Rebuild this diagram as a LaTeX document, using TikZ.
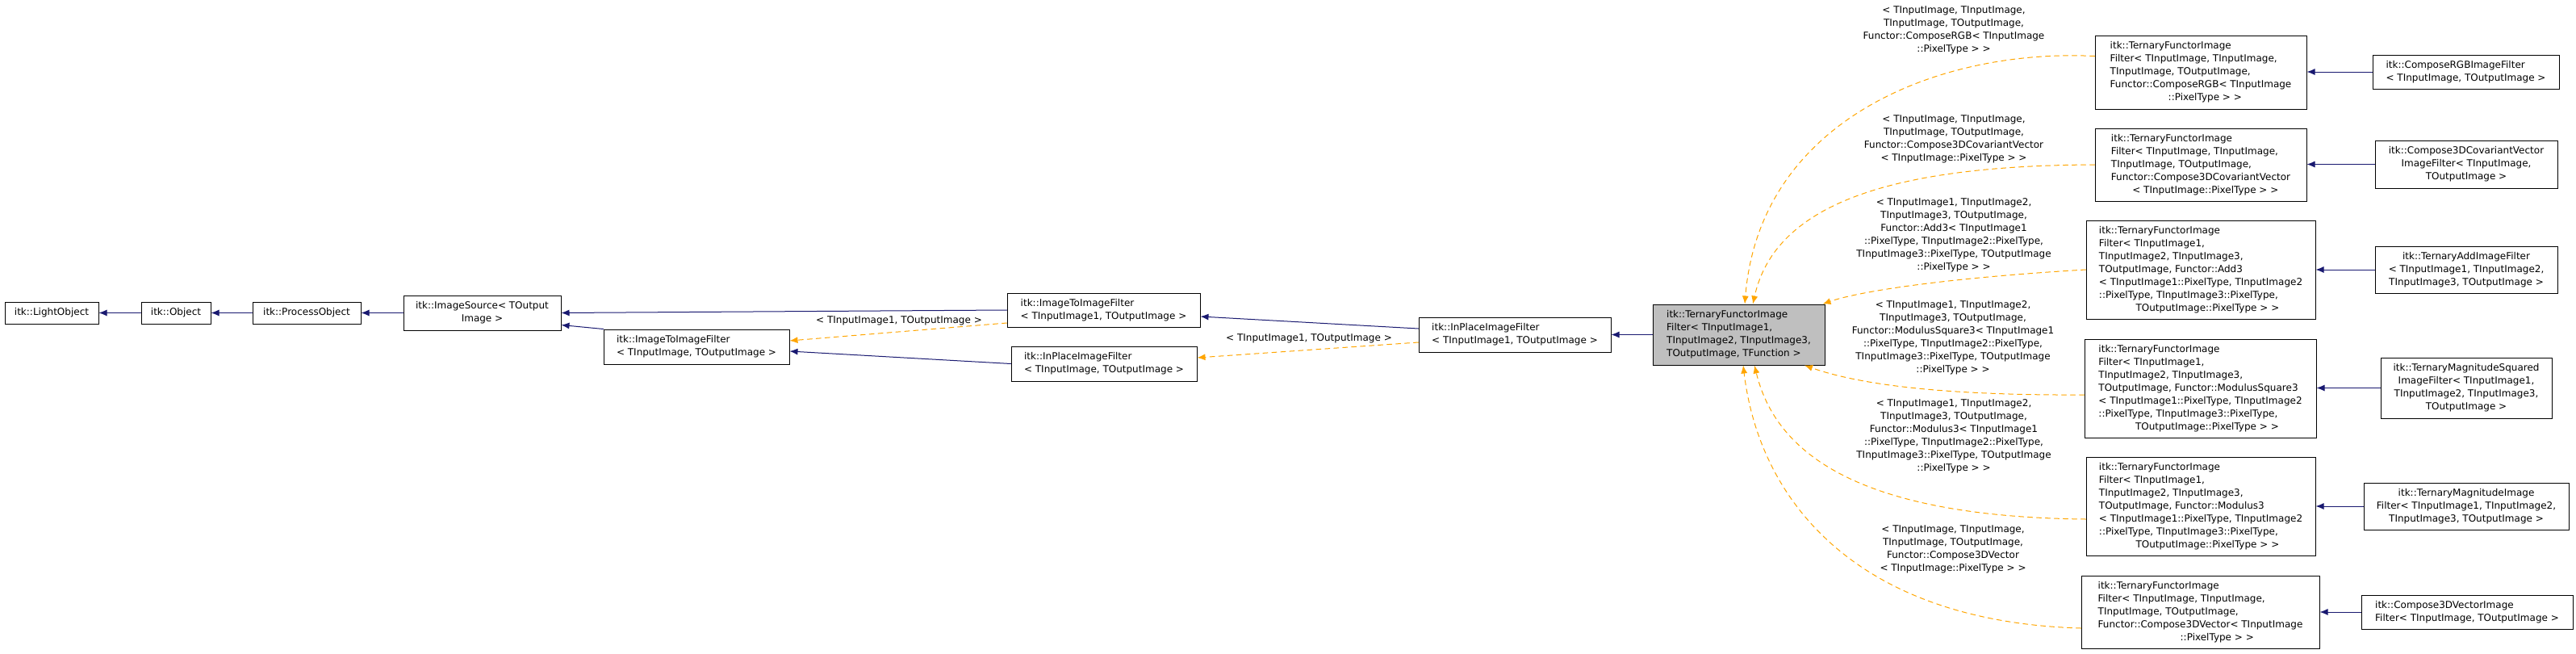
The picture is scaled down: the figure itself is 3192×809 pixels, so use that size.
\documentclass[tikz,border=0pt]{standalone}
\usepackage{fontspec}
\setmainfont{DejaVu Sans}
\usepackage{xcolor}
\definecolor{blu}{RGB}{25,25,112}
\definecolor{ora}{RGB}{255,165,0}
\definecolor{gry}{RGB}{191,191,191}
\usepackage{tikz}
\usetikzlibrary{arrows.meta}

\begin{document}
\begin{tikzpicture}[x=1pt,y=-1pt,line cap=round]
	\tikzstyle{cls}=[draw,fill=white,line width=1pt,inner sep=3pt,font=\fontsize{12}{16}\selectfont,align=left];
	\tikzstyle{ctr}=[cls,align=center];
	\tikzstyle{lbl}=[inner sep=0pt,font=\fontsize{12}{16}\selectfont,align=center];
	\tikzstyle{inh}=[blu,line width=1pt,-{Latex[length=10pt,width=8pt]}];
	\tikzstyle{tmpl}=[ora,line width=1pt,dash pattern=on 6pt off 5pt,-{Latex[length=10pt,width=8pt]}];
%<--------------------------------------------------------------------------->%
	\useasboundingbox (0,0) rectangle (3192,809);
	\node[ctr,minimum width=116,minimum height=27] (lobj) at (64,387.5) {itk::LightObject};
	\node[ctr,minimum width=86,minimum height=27] (obj) at (218,387.5) {itk::Object};
	\node[ctr,minimum width=134,minimum height=27] (pobj) at (380,387.5) {itk::ProcessObject};
	\node[ctr,minimum width=195,minimum height=43] (src) at (597.5,387.5) {itk::ImageSource< TOutput\\Image >};
	\node[cls,minimum width=230,minimum height=43] (iti) at (863,429.5) {itk::ImageToImageFilter\\< TInputImage, TOutputImage >};
	\node[cls,minimum width=239,minimum height=42] (itione) at (1367.5,384) {itk::ImageToImageFilter\\< TInputImage1, TOutputImage >};
	\node[cls,minimum width=230,minimum height=43] (ip) at (1368,450.5) {itk::InPlaceImageFilter\\< TInputImage, TOutputImage >};
	\node[cls,minimum width=238,minimum height=43] (ipone) at (1877,414.5) {itk::InPlaceImageFilter\\< TInputImage1, TOutputImage >};
	\node[cls,fill=gry,minimum width=213,minimum height=75] (tern) at (2154.5,414.5) {itk::TernaryFunctorImage\\Filter< TInputImage1,\\ TInputImage2, TInputImage3,\\ TOutputImage, TFunction >};
	%% instantiations
	\node[cls,minimum width=262,minimum height=91] (rgb) at (2727,89.5) {itk::TernaryFunctorImage\\Filter< TInputImage, TInputImage,\\ TInputImage, TOutputImage,\\ Functor::ComposeRGB< TInputImage\\\hspace*{6em}::PixelType > >};
	\node[cls,minimum width=262,minimum height=90] (cov) at (2727,204) {itk::TernaryFunctorImage\\Filter< TInputImage, TInputImage,\\ TInputImage, TOutputImage,\\ Functor::Compose3DCovariantVector\\\hspace*{2.2em}< TInputImage::PixelType > >};
	\node[cls,minimum width=284,minimum height=122] (add) at (2727,334) {itk::TernaryFunctorImage\\Filter< TInputImage1,\\ TInputImage2, TInputImage3,\\ TOutputImage, Functor::Add3\\< TInputImage1::PixelType, TInputImage2\\::PixelType, TInputImage3::PixelType,\\\hspace*{3.8em}TOutputImage::PixelType > >};
	\node[cls,minimum width=287,minimum height=122] (msq) at (2726.5,481) {itk::TernaryFunctorImage\\Filter< TInputImage1,\\ TInputImage2, TInputImage3,\\ TOutputImage, Functor::ModulusSquare3\\< TInputImage1::PixelType, TInputImage2\\::PixelType, TInputImage3::PixelType,\\\hspace*{3.8em}TOutputImage::PixelType > >};
	\node[cls,minimum width=284,minimum height=122] (mod) at (2727,627) {itk::TernaryFunctorImage\\Filter< TInputImage1,\\ TInputImage2, TInputImage3,\\ TOutputImage, Functor::Modulus3\\< TInputImage1::PixelType, TInputImage2\\::PixelType, TInputImage3::PixelType,\\\hspace*{3.8em}TOutputImage::PixelType > >};
	\node[cls,minimum width=295,minimum height=90] (vec) at (2726.5,758) {itk::TernaryFunctorImage\\Filter< TInputImage, TInputImage,\\ TInputImage, TOutputImage,\\ Functor::Compose3DVector< TInputImage\\\hspace*{8.5em}::PixelType > >};
	%% leaves
	\node[cls,minimum width=231,minimum height=42] (rgbf) at (3055.5,89) {itk::ComposeRGBImageFilter\\< TInputImage, TOutputImage >};
	\node[ctr,minimum width=226,minimum height=59] (covf) at (3056,203.5) {itk::Compose3DCovariantVector\\ImageFilter< TInputImage,\\TOutputImage >};
	\node[ctr,minimum width=226,minimum height=58] (addf) at (3056,334) {itk::TernaryAddImageFilter\\< TInputImage1, TInputImage2,\\TInputImage3, TOutputImage >};
	\node[ctr,minimum width=212,minimum height=75] (msqf) at (3056,480.5) {itk::TernaryMagnitudeSquared\\ImageFilter< TInputImage1,\\TInputImage2, TInputImage3,\\TOutputImage >};
	\node[ctr,minimum width=254,minimum height=58] (modf) at (3056,627) {itk::TernaryMagnitudeImage\\Filter< TInputImage1, TInputImage2,\\TInputImage3, TOutputImage >};
	\node[cls,minimum width=262,minimum height=42] (vecf) at (3057,758) {itk::Compose3DVectorImage\\Filter< TInputImage, TOutputImage >};
	%% edge labels
	\node[lbl] (lrgb) at (2421,37) {< TInputImage, TInputImage,\\TInputImage, TOutputImage,\\Functor::ComposeRGB< TInputImage\\::PixelType > >};
	\node[lbl] (lcov) at (2421,172) {< TInputImage, TInputImage,\\TInputImage, TOutputImage,\\Functor::Compose3DCovariantVector\\< TInputImage::PixelType > >};
	\node[lbl] (ladd) at (2421,291) {< TInputImage1, TInputImage2,\\TInputImage3, TOutputImage,\\Functor::Add3< TInputImage1\\::PixelType, TInputImage2::PixelType,\\TInputImage3::PixelType, TOutputImage\\::PixelType > >};
	\node[lbl] (lmsq) at (2420,418) {< TInputImage1, TInputImage2,\\TInputImage3, TOutputImage,\\Functor::ModulusSquare3< TInputImage1\\::PixelType, TInputImage2::PixelType,\\TInputImage3::PixelType, TOutputImage\\::PixelType > >};
	\node[lbl] (lmod) at (2421,540) {< TInputImage1, TInputImage2,\\TInputImage3, TOutputImage,\\Functor::Modulus3< TInputImage1\\::PixelType, TInputImage2::PixelType,\\TInputImage3::PixelType, TOutputImage\\::PixelType > >};
	\node[lbl] (lvec) at (2420,680) {< TInputImage, TInputImage,\\TInputImage, TOutputImage,\\Functor::Compose3DVector\\< TInputImage::PixelType > >};
	\node[lbl] (litione) at (1114,397) {< TInputImage1, TOutputImage >};
	\node[lbl] (lipone) at (1622,419) {< TInputImage1, TOutputImage >};
	%% Final
	\draw[inh] (obj) -- (lobj);
	\draw[inh] (pobj) -- (obj);
	\draw[inh] (src) -- (pobj);
	\draw[inh] (itione.west) -- (src.east);
	\draw[inh] (iti.north west) -- ([yshift=7pt]src.south east);
	\draw[inh] (ip.west) -- ([yshift=-5.5pt]iti.east);
	\draw[inh] ([yshift=7.5pt]ipone.west) -- ([yshift=-8pt]itione.east);
	\draw[inh] (tern.west) -- (ipone.east);
	\draw[tmpl] ([yshift=-16pt]itione.west) -- ([yshift=7.5pt]iti.east);
	\draw[tmpl] ([yshift=-9.5pt]ipone.west) -- ([yshift=7.5pt]ip.east);
	\draw[tmpl] ([yshift=20pt]rgb.west) .. controls (2400,60) and (2180,150) .. ([xshift=7.5pt]tern.north);
	\draw[tmpl] (cov.west) .. controls (2350,205) and (2200,250) .. ([xshift=17.5pt]tern.north);
	\draw[tmpl] (add.west) .. controls (2400,345) and (2300,362) .. ([xshift=-3pt]tern.north east);
	\draw[tmpl] ([yshift=-8pt]msq.west) .. controls (2400,490) and (2300,475) .. ([xshift=81.5pt]tern.south);
	\draw[tmpl] ([yshift=-16pt]mod.west) .. controls (2300,640) and (2200,560) .. ([xshift=19.5pt]tern.south);
	\draw[tmpl] ([yshift=-20pt]vec.west) .. controls (2300,770) and (2180,620) .. ([xshift=5.5pt]tern.south);
	\draw[inh] (rgbf) -- (rgbf -| rgb.east);
	\draw[inh] (covf) -- (covf -| cov.east);
	\draw[inh] (addf) -- (addf -| add.east);
	\draw[inh] (msqf) -- (msqf -| msq.east);
	\draw[inh] (modf) -- (modf -| mod.east);
	\draw[inh] (vecf) -- (vecf -| vec.east);
\end{tikzpicture}
\end{document}
